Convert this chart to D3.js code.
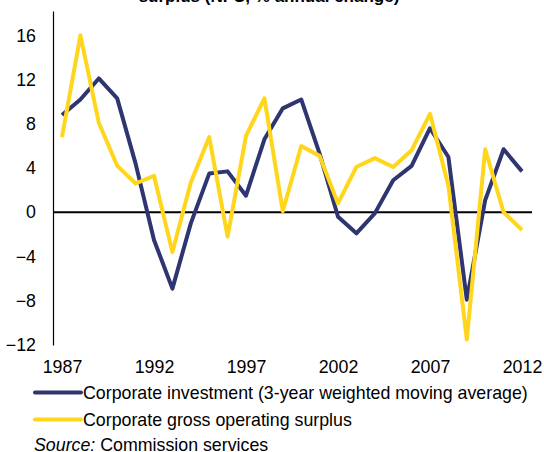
<!DOCTYPE html>
<html><head><meta charset="utf-8">
<script src="https://cdn.jsdelivr.net/npm/d3@7"></script>
<style>
html,body{margin:0;padding:0;background:#fff;}
svg{display:block;font-family:"Liberation Sans",Arial,sans-serif;}
</style></head>
<body>
<svg id="chart" width="544" height="452"></svg>
<script>
const years = d3.range(1987, 2013);
const investment = [8.8,10.2,12.1,10.3,4.4,-2.5,-6.9,-1.0,3.5,3.7,1.5,6.6,9.4,10.2,5.3,-0.4,-1.9,-0.1,2.9,4.2,7.6,5.0,-7.9,1.1,5.7,3.7];
const surplus = [6.8,16.0,8.1,4.2,2.6,3.3,-3.6,2.7,6.8,-2.2,6.9,10.3,0.1,6.0,5.1,0.8,4.1,4.9,4.1,5.6,8.9,2.4,-11.5,5.7,0.0,-1.6];
const yTicks = [-12,-8,-4,0,4,8,12,16];
const xTicks = [1987,1992,1997,2002,2007,2012];
const seriesNames = ["Corporate investment (3-year weighted moving average)","Corporate gross operating surplus"];
const colors = ["#2f3570","#ffd61c"];
const titleText = "surplus (NFC, % annual change)";

const FS = 17.8;
const svg = d3.select("#chart");
const x = d3.scaleLinear().domain([1987, 2012]).range([62, 522]);
const y = d3.scaleLinear().domain([-12, 18.2]).range([345, 11]);

// title (cut off at top, as in the source)
svg.append("text").attr("x", 269).attr("y", 1.5).attr("text-anchor","middle")
  .attr("font-size", 17).attr("font-weight","bold").attr("fill","#000").text(titleText);

// y axis
const yAxis = svg.append("g").attr("transform","translate(53,0)")
  .call(d3.axisLeft(y).tickValues(yTicks).tickSize(0).tickPadding(17).tickFormat(d3.format("d")));
yAxis.select(".domain").attr("stroke","#000").attr("stroke-width",1.2);
yAxis.selectAll("text").attr("font-size",FS).attr("fill","#000").attr("font-family","Liberation Sans, Arial, sans-serif");

// x axis labels
const xAxis = svg.append("g").attr("transform","translate(0,360)")
  .call(d3.axisBottom(x).tickValues(xTicks).tickSize(0).tickPadding(0).tickFormat(d3.format("d")));
xAxis.select(".domain").remove();
xAxis.selectAll("text").attr("font-size",FS).attr("fill","#000").attr("font-family","Liberation Sans, Arial, sans-serif");

// zero line
svg.append("line").attr("x1", x.range()[0]-9).attr("x2", x.range()[1]+10)
  .attr("y1", y(0)).attr("y2", y(0)).attr("stroke","#000").attr("stroke-width",2);

const line = d3.line().x((d,i)=>x(years[i])).y(d=>y(d));
[investment, surplus].forEach((s,k)=>{
  svg.append("path").datum(s).attr("d", line).attr("fill","none")
    .attr("stroke", colors[k]).attr("stroke-width",4).attr("stroke-linejoin","round");
});

// legend
seriesNames.forEach((n,k)=>{
  const ly = 392.5 + k*27;
  svg.append("line").attr("x1",35).attr("x2",81).attr("y1",ly).attr("y2",ly)
    .attr("stroke",colors[k]).attr("stroke-width",4).attr("stroke-linecap","round");
  svg.append("text").attr("x",83).attr("y",ly+6.3).attr("font-size",FS).attr("fill","#000").text(n);
});

// source (cut off at bottom, as in the source)
const src = svg.append("text").attr("x",34).attr("y",450.5).attr("font-size",FS).attr("fill","#000");
src.append("tspan").attr("font-style","italic").text("Source:");
src.append("tspan").text(" Commission services");
</script>
</body></html>
